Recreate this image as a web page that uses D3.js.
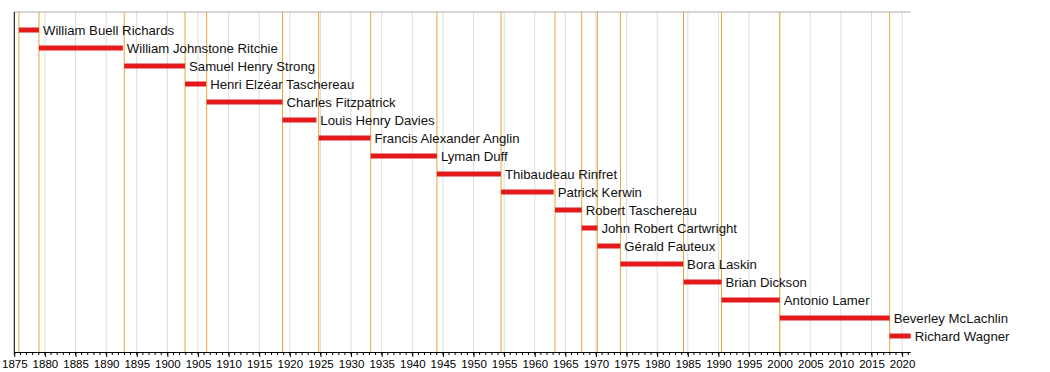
<!DOCTYPE html>
<html><head><meta charset="utf-8">
<script src="https://cdn.jsdelivr.net/npm/d3@7"></script>
<style>body{margin:0;background:#fff}svg{display:block}text{font-family:"Liberation Sans",Arial,sans-serif}</style>
</head><body><svg id="c" width="1050" height="372"></svg>
<script>
const names = ["William Buell Richards","William Johnstone Ritchie","Samuel Henry Strong","Henri Elzéar Taschereau","Charles Fitzpatrick","Louis Henry Davies","Francis Alexander Anglin","Lyman Duff","Thibaudeau Rinfret","Patrick Kerwin","Robert Taschereau","John Robert Cartwright","Gérald Fauteux","Bora Laskin","Brian Dickson","Antonio Lamer","Beverley McLachlin","Richard Wagner"];
const starts = [1875.75,1879.03,1892.95,1902.89,1906.42,1918.81,1924.71,1933.21,1944.02,1954.50,1963.31,1967.67,1970.23,1973.99,1984.30,1990.50,2000.02,2017.96];
const ends = [1879.03,1892.73,1902.88,1906.33,1918.80,1924.33,1933.16,1944.02,1954.47,1963.09,1967.67,1970.23,1973.98,1984.23,1990.50,2000.02,2017.96,2021.4];
const domain = [1875, 2021.4];

const svg = d3.select("#c");
const mLeft = 14.3, mRight = 910.7, mTop = 12, mBottom = 352;
const x = d3.scaleLinear().domain(domain).range([mLeft, mRight]);
const y = d3.scaleBand().domain(d3.range(names.length)).range([21, 345]);

const fiveYears = d3.range(1875, 2021, 5);
svg.append("g").selectAll("line").data(fiveYears).join("line")
  .attr("x1", d => x(d)).attr("x2", d => x(d)).attr("y1", mTop).attr("y2", mBottom)
  .attr("stroke", "#dddddd").attr("stroke-width", 1);

svg.append("g").selectAll("line").data(starts).join("line")
  .attr("x1", d => x(d)).attr("x2", d => x(d)).attr("y1", mTop).attr("y2", mBottom)
  .attr("stroke", "#e8a33a").attr("stroke-width", 1);

svg.append("line").attr("x1", mLeft).attr("x2", mRight).attr("y1", mTop).attr("y2", mTop)
  .attr("stroke", "#aaaaaa");
svg.append("line").attr("x1", mLeft).attr("x2", mLeft).attr("y1", mTop).attr("y2", mBottom)
  .attr("stroke", "#000");

const rows = svg.append("g").selectAll("g").data(names).join("g");
rows.append("rect")
  .attr("x", (d,i) => x(starts[i])).attr("width", (d,i) => x(ends[i]) - x(starts[i]))
  .attr("y", (d,i) => y(i) + y.bandwidth()/2 - 2.5).attr("height", 5)
  .attr("fill", "#e31a1c");
rows.append("text")
  .attr("x", (d,i) => x(ends[i]) + 4).attr("y", (d,i) => y(i) + y.bandwidth()/2)
  .attr("dy", "0.35em").attr("font-size", 13.2).attr("fill", "#111").text(d => d);

const ax = svg.append("g").attr("transform", `translate(0,${mBottom})`);
ax.call(d3.axisBottom(x).tickValues(fiveYears).tickFormat(d3.format("d")).tickSize(5).tickPadding(3))
  .call(g => g.select(".domain").remove())
  .call(g => g.selectAll("text").attr("font-size", 11.5).attr("font-family", "Liberation Sans, Arial, sans-serif"));
ax.append("g").selectAll("line").data(d3.range(1875, 2022)).join("line")
  .attr("x1", d => x(d)).attr("x2", d => x(d)).attr("y1", 0).attr("y2", 3).attr("stroke", "#000");
ax.append("line").attr("x1", mLeft).attr("x2", mRight).attr("y1", 0.5).attr("y2", 0.5).attr("stroke", "#000");
</script></body></html>
